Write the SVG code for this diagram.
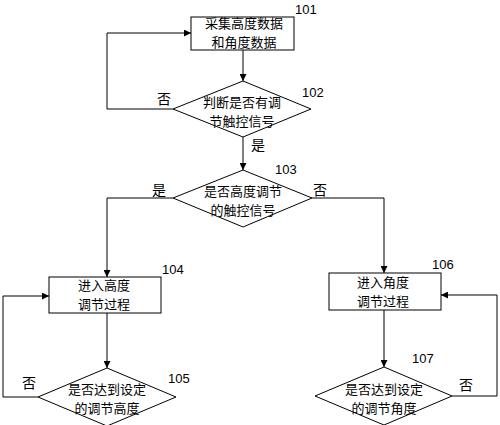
<svg xmlns="http://www.w3.org/2000/svg" width="500" height="425" viewBox="0 0 500 425">
<style>
.s{fill:#fff;stroke:#000;stroke-width:1}
.c{fill:none;stroke:#000;stroke-width:1}
.t{font-family:"Noto Sans CJK SC","Noto Sans CJK JP",sans-serif;font-size:13px;fill:#000;text-anchor:middle}
.l{font-family:"Noto Sans CJK SC",sans-serif;font-size:14px;fill:#000}
.n{font-family:"Liberation Sans",Arial,sans-serif;font-size:13px;fill:#000}
</style>
<defs>
<marker id="a" viewBox="0 0 10 10" refX="10" refY="5" markerWidth="8" markerHeight="7" markerUnits="userSpaceOnUse" orient="auto">
<path d="M0,0 L10,5 L0,10 z" fill="#000"/>
</marker>
</defs>
<rect width="500" height="425" fill="#fff"/>
<g id="connectors">
<path class="c" d="M243,50 V81" marker-end="url(#a)"/>
<path class="c" d="M173,109 H107 V33 H191" marker-end="url(#a)"/>
<path class="c" d="M243,137 V170" marker-end="url(#a)"/>
<path class="c" d="M173,198 H107 V277" marker-end="url(#a)"/>
<path class="c" d="M312,198 H384 V273" marker-end="url(#a)"/>
<path class="c" d="M107,313 V368" marker-end="url(#a)"/>
<path class="c" d="M38,397 H3 V296 H49" marker-end="url(#a)"/>
<path class="c" d="M384,310 V367" marker-end="url(#a)"/>
<path class="c" d="M452,396 H497 V295 H441" marker-end="url(#a)"/>
<text class="l" x="157" y="104">否</text>
<text class="l" x="251" y="150">是</text>
<text class="l" x="152" y="195">是</text>
<text class="l" x="313" y="195">否</text>
<text class="l" x="22" y="388">否</text>
<text class="l" x="459" y="390">否</text>
</g>
<g id="n101">
<rect class="s" x="191" y="17" width="103" height="33"/>
<text class="t" x="244" y="28">采集高度数据<tspan x="244" y="47">和角度数据</tspan></text>
<text class="n" x="295" y="14">101</text>
</g>
<g id="n102">
<polygon class="s" points="243,81 311,109 243,137 173,109"/>
<text class="t" x="242" y="107">判断是否有调<tspan x="242" y="126">节触控信号</tspan></text>
<text class="n" x="302" y="97">102</text>
</g>
<g id="n103">
<polygon class="s" points="243,170 312,198 243,227 173,198"/>
<text class="t" x="243" y="196">是否高度调节<tspan x="243" y="215">的触控信号</tspan></text>
<text class="n" x="275" y="174">103</text>
</g>
<g id="n104">
<rect class="s" x="49" y="277" width="112" height="36"/>
<text class="t" x="104" y="290">进入高度<tspan x="104" y="309">调节过程</tspan></text>
<text class="n" x="162" y="274">104</text>
</g>
<g id="n105">
<polygon class="s" points="107,368 176,397 107,426 38,397"/>
<text class="t" x="107" y="394">是否达到设定<tspan x="107" y="413">的调节高度</tspan></text>
<text class="n" x="168" y="383">105</text>
</g>
<g id="n106">
<rect class="s" x="329" y="273" width="112" height="37"/>
<text class="t" x="383" y="287">进入角度<tspan x="383" y="306">调节过程</tspan></text>
<text class="n" x="432" y="269">106</text>
</g>
<g id="n107">
<polygon class="s" points="384,367 452,396 384,425 315,396"/>
<text class="t" x="384" y="394">是否达到设定<tspan x="384" y="413">的调节角度</tspan></text>
<text class="n" x="412" y="363">107</text>
</g>
</svg>
